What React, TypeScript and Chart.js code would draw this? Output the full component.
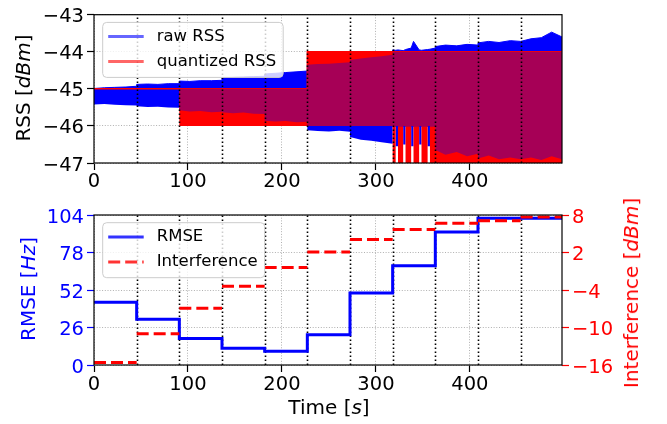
import React, { useEffect, useRef } from 'react';
import { Chart, registerables } from 'chart.js';

Chart.register(...registerables);

const FONT = "'DejaVu Sans', sans-serif";

// Axis ticks
const timeTicks = [0, 100, 200, 300, 400];
const rssTicks = [-47, -46, -45, -44, -43];
const rmseTicks = [0, 26, 52, 78, 104];
const interferenceTicks = [-16, -10, -4, 2, 8];

const timeMax = 498;

// Start of each measurement window (s)
const windowStarts = [0, 45.4, 90.8, 136.2, 181.6, 227, 272.4, 317.8, 363.2, 408.6, 454];

// RSS envelopes, sampled inside every window (time in s, RSS in dBm)
const envTime = [
  0, 11, 22, 34, 45.4,
  45.4, 57, 68, 79, 90.8,
  90.8, 102, 113, 125, 136.2,
  136.2, 148, 159, 170, 181.6,
  181.6, 193, 204, 216, 227,
  227, 238, 250, 261, 272.4,
  272.4, 284, 295, 306, 317.8,
  317.8, 321, 321, 323.5, 323.5, 329, 329, 331.5, 331.5, 337.5, 337.5, 340, 340, 346, 346, 348.5, 348.5, 355, 355, 357.5, 357.5, 363.2,
  363.2, 374, 386, 397, 408.6,
  408.6, 420, 431, 443, 454,
  454, 465, 476, 487, 498,
];

// Upper / lower edge of the raw RSS trace
const rawHigh = [
  -44.99, -44.97, -44.96, -44.95, -44.93,
  -44.88, -44.87, -44.88, -44.86, -44.86,
  -44.79, -44.8, -44.78, -44.78, -44.77,
  -44.7, -44.69, -44.68, -44.67, -44.66,
  -44.6, -44.58, -44.56, -44.54, -44.52,
  -44.35, -44.33, -44.32, -44.3, -44.28,
  -44.22, -44.18, -44.15, -44.12, -44.08,
  -43.95, -43.96, -43.96, -43.95, -43.95, -43.97, -43.97, -43.94, -43.94, -43.9, -43.9, -43.72, -43.72, -43.95, -43.95, -43.96, -43.96, -43.94, -43.94, -43.93, -43.93, -43.9,
  -43.86, -43.82, -43.84, -43.8, -43.82,
  -43.76, -43.72, -43.75, -43.7, -43.72,
  -43.72, -43.65, -43.62, -43.47, -43.6,
];
const rawLow = [
  -45.42, -45.41, -45.43, -45.44, -45.45,
  -45.47, -45.49, -45.48, -45.5, -45.51,
  -45.58, -45.61, -45.6, -45.63, -45.62,
  -45.63, -45.66, -45.64, -45.67, -45.68,
  -45.86, -45.88, -45.87, -45.9, -45.89,
  -46.12, -46.14, -46.15, -46.13, -46.16,
  -46.3, -46.37, -46.4, -46.44, -46.48,
  -46.02, -46.02, -46.55, -46.55, -46.02, -46.02, -46.5, -46.5, -46.02, -46.02, -46.55, -46.55, -46.02, -46.02, -46.5, -46.5, -46.02, -46.02, -46.55, -46.55, -46.02, -46.02,
  -46.65, -46.78, -46.7, -46.82, -46.75,
  -46.88, -46.8, -46.9, -46.85, -46.9,
  -46.9, -46.85, -46.92, -46.82, -46.9,
];

// Range covered by the quantized RSS trace
const quantHigh = [
  -45, -45, -45, -45, -45,
  -45, -45, -45, -45, -45,
  -45, -45, -45, -45, -45,
  -45, -45, -45, -45, -45,
  -45, -45, -45, -45, -45,
  -44, -44, -44, -44, -44,
  -44, -44, -44, -44, -44,
  -44, -44, -44, -44, -44, -44, -44, -44, -44, -44, -44, -44, -44, -44, -44, -44, -44, -44, -44, -44, -44, -44,
  -44, -44, -44, -44, -44,
  -44, -44, -44, -44, -44,
  -44, -44, -44, -44, -44,
];
const quantLow = [
  -45, -45, -45, -45, -45,
  -45, -45, -45, -45, -45,
  -46, -46, -46, -46, -46,
  -46, -46, -46, -46, -46,
  -46, -46, -46, -46, -46,
  -46, -46, -46, -46, -46,
  -46, -46, -46, -46, -46,
  -47, -47, -46, -46, -47, -47, -46, -46, -47, -47, -46, -46, -47, -47, -46, -46, -47, -47, -46, -46, -47, -47,
  -47, -47, -47, -47, -47,
  -47, -47, -47, -47, -47,
  -47, -47, -47, -47, -47,
];

// RMSE per window (Hz); the last level holds to the end of the run
const rmseStarts = [0, 45.4, 90.8, 136.2, 181.6, 227, 272.4, 317.8, 363.2, 408.6];
const rmse = [43.5, 31.7, 18.3, 11.6, 9.5, 21.0, 49.9, 68.9, 92.2, 101.7];

// Interference level per window (dBm)
const interference = [-15.6, -11.0, -6.9, -3.4, -0.4, 2.1, 4.1, 5.7, 6.7, 7.1, 7.7];

const BLUE = '#0000ff';
const RED = '#ff0000';
const MIX = 'rgb(166,0,86)';

const pts = (xs: number[], ys: number[]) => xs.map((x, i) => ({ x, y: ys[i] }));
const fmt = (v: number) => (v < 0 ? '\u2212' + Math.abs(v) : String(v));

// where both traces cover the same RSS values
const mixHigh = envTime.map((_, i) => Math.min(rawHigh[i], quantHigh[i]));
const mixLow = envTime.map((_, i) => Math.min(mixHigh[i], Math.max(rawLow[i], quantLow[i])));

function axis(o: {
  min: number; max: number; ticks: number[]; color: string; position: string;
  grid: boolean; size: (s: any) => void; padding: number; labelOffset?: number;
}) {
  return {
    type: 'linear',
    position: o.position,
    min: o.min,
    max: o.max,
    afterBuildTicks: (s: any) => { s.ticks = o.ticks.map((v) => ({ value: v })); },
    afterFit: o.size,
    grid: {
      drawOnChartArea: o.grid,
      color: '#b0b0b0',
      lineWidth: 1,
      tickLength: 7,
      tickWidth: 1.2,
      tickColor: o.color,
    },
    border: { display: false, dash: [1, 1.7] },
    ticks: {
      color: o.color,
      font: { family: FONT, size: 19.5 },
      padding: o.padding,
      labelOffset: o.labelOffset || 0,
      maxRotation: 0,
      minRotation: 0,
      callback: (v: any) => fmt(Number(v)),
    },
  };
}

const framePlugin = {
  id: 'frame',
  afterDraw(chart: any) {
    const { ctx, chartArea: a } = chart;
    ctx.save();
    ctx.strokeStyle = '#000';
    ctx.lineWidth = 1.2;
    ctx.setLineDash([]);
    ctx.strokeRect(a.left, a.top, a.right - a.left, a.bottom - a.top);
    ctx.restore();
  },
};

function windowLines(id: string, hook: string) {
  return {
    id,
    [hook](chart: any) {
      const { ctx, chartArea: a, scales } = chart;
      ctx.save();
      ctx.beginPath();
      ctx.rect(a.left, a.top, a.right - a.left, a.bottom - a.top);
      ctx.clip();
      ctx.strokeStyle = '#000';
      ctx.lineWidth = 1.6;
      ctx.setLineDash([1.6, 2.4]);
      windowStarts.slice(1).forEach((t) => {
        const x = Math.round(scales.x.getPixelForValue(t)) + 0.5;
        ctx.beginPath();
        ctx.moveTo(x, a.bottom);
        ctx.lineTo(x, a.top);
        ctx.stroke();
      });
      ctx.restore();
    },
  };
}

function boxLegend(id: string, items: { label: string; color: string; dash?: number[] }[]) {
  return {
    id,
    afterDatasetsDraw(chart: any) {
      const { ctx, chartArea: a } = chart;
      ctx.save();
      ctx.font = `16.5px ${FONT}`;
      const tw = Math.max(...items.map((it) => ctx.measureText(it.label).width));
      const x0 = a.left + 8.7;
      const y0 = a.top + 7.7;
      const w = 54 + tw + 7;
      const h = 55;
      ctx.beginPath();
      ctx.roundRect(x0, y0, w, h, 4);
      ctx.fillStyle = 'rgba(255,255,255,0.8)';
      ctx.fill();
      ctx.strokeStyle = '#cccccc';
      ctx.lineWidth = 1;
      ctx.stroke();
      items.forEach((it, i) => {
        const cy = y0 + 14.2 + i * 25;
        ctx.strokeStyle = it.color;
        ctx.lineWidth = 3;
        ctx.setLineDash(it.dash || []);
        ctx.beginPath();
        ctx.moveTo(x0 + 5.5, cy);
        ctx.lineTo(x0 + 41, cy);
        ctx.stroke();
        ctx.setLineDash([]);
        ctx.fillStyle = '#000';
        ctx.textBaseline = 'middle';
        ctx.textAlign = 'left';
        ctx.fillText(it.label, x0 + 54, cy);
      });
      ctx.restore();
    },
  };
}

function band(data: any[], color: string, order: number, fill: any, width: number) {
  return {
    data,
    order,
    fill,
    backgroundColor: color,
    borderColor: color,
    borderWidth: width,
    pointRadius: 0,
    tension: 0,
  };
}

function rssConfig(): any {
  return {
    type: 'line',
    data: {
      datasets: [
        band(pts(envTime, mixHigh), MIX, 1, '+1', 0),
        band(pts(envTime, mixLow), MIX, 1, false, 0),
        band(pts(envTime, quantHigh), RED, 2, '+1', 1.5),
        band(pts(envTime, quantLow), RED, 2, false, 0),
        band(pts(envTime, rawHigh), BLUE, 3, '+1', 1),
        band(pts(envTime, rawLow), BLUE, 3, false, 0),
      ],
    },
    options: {
      animation: false,
      responsive: false,
      events: [],
      layout: { padding: { top: 13, left: 0, right: 105, bottom: 0 } },
      plugins: { legend: { display: false }, tooltip: { enabled: false } },
      scales: {
        x: axis({ min: 0, max: timeMax, ticks: timeTicks, color: '#000', position: 'bottom', grid: true,
          size: (s: any) => { s.height = 32; }, padding: 0 }),
        y: axis({ min: -47, max: -43, ticks: rssTicks, color: '#000', position: 'left', grid: true,
          size: (s: any) => { s.width = 94; }, padding: 3, labelOffset: 2.5 }),
      },
    },
    plugins: [
      windowLines('rssWindows', 'afterDatasetsDraw'),
      boxLegend('rssLegend', [
        { label: 'raw RSS', color: 'rgba(0,0,255,0.6)' },
        { label: 'quantized RSS', color: 'rgba(255,0,0,0.6)' },
      ]),
      framePlugin,
    ],
  };
}

function errorConfig(): any {
  const rmsePts = rmseStarts.map((x, i) => ({ x, y: rmse[i] }));
  rmsePts.push({ x: timeMax, y: rmse[rmse.length - 1] });
  const interfPts: { x: number; y: number | null }[] = [];
  interference.forEach((v, i) => {
    const s = windowStarts[i];
    const e = i + 1 < windowStarts.length ? windowStarts[i + 1] : timeMax;
    interfPts.push({ x: s, y: v }, { x: e, y: v }, { x: e, y: null });
  });
  return {
    type: 'line',
    data: {
      datasets: [
        {
          data: interfPts,
          yAxisID: 'y1',
          order: 0,
          borderColor: RED,
          borderWidth: 3,
          borderDash: [12, 5],
          pointRadius: 0,
          fill: false,
          spanGaps: false,
        },
        {
          data: rmsePts,
          yAxisID: 'y',
          order: 1,
          borderColor: BLUE,
          borderWidth: 3,
          stepped: 'before',
          pointRadius: 0,
          fill: false,
        },
      ],
    },
    options: {
      animation: false,
      responsive: false,
      events: [],
      layout: { padding: { top: 20, left: 0, right: 0, bottom: 0 } },
      plugins: { legend: { display: false }, tooltip: { enabled: false } },
      scales: {
        x: axis({ min: 0, max: timeMax, ticks: timeTicks, color: '#000', position: 'bottom', grid: true,
          size: (s: any) => { s.height = 59; }, padding: 1 }),
        y: axis({ min: 0, max: 104, ticks: rmseTicks, color: BLUE, position: 'left', grid: true,
          size: (s: any) => { s.width = 94; }, padding: 3, labelOffset: 2.5 }),
        y1: axis({ min: -16, max: 8, ticks: interferenceTicks, color: RED, position: 'right', grid: false,
          size: (s: any) => { s.width = 105; }, padding: 3, labelOffset: 2.5 }),
      },
    },
    plugins: [
      windowLines('errWindows', 'beforeDatasetsDraw'),
      boxLegend('errLegend', [
        { label: 'RMSE', color: 'rgba(0,0,255,0.8)' },
        { label: 'Interference', color: 'rgba(255,0,0,0.8)', dash: [12, 5] },
      ]),
      framePlugin,
    ],
  };
}

const labelBase: React.CSSProperties = {
  position: 'absolute',
  whiteSpace: 'nowrap',
  fontFamily: FONT,
  fontSize: 20,
  lineHeight: 1,
};

function AxisLabel({ x, y, rotate, color, children }: any) {
  return (
    <div
      style={{
        ...labelBase,
        left: x,
        top: y,
        color,
        transform: `translate(-50%, -50%)${rotate ? ' rotate(-90deg)' : ''}`,
      }}
    >
      {children}
    </div>
  );
}

export default function App() {
  const topRef = useRef<HTMLCanvasElement>(null);
  const botRef = useRef<HTMLCanvasElement>(null);

  useEffect(() => {
    const top = new Chart(topRef.current as HTMLCanvasElement, rssConfig());
    const bot = new Chart(botRef.current as HTMLCanvasElement, errorConfig());
    return () => {
      top.destroy();
      bot.destroy();
    };
  }, []);

  return (
    <div style={{ position: 'absolute', left: 0, top: 0, width: 667, height: 424, background: '#fff', overflow: 'hidden' }}>
      <canvas ref={topRef} width={667} height={195}
        style={{ position: 'absolute', left: 0, top: 0, width: 667, height: 195, display: 'block' }} />
      <canvas ref={botRef} width={667} height={229}
        style={{ position: 'absolute', left: 0, top: 195, width: 667, height: 229, display: 'block' }} />
      <AxisLabel x={23} y={88} rotate color="#000">RSS [<i>dBm</i>]</AxisLabel>
      <AxisLabel x={27.5} y={289} rotate color={BLUE}>RMSE [<i>Hz</i>]</AxisLabel>
      <AxisLabel x={631} y={293} rotate color={RED}>Interference [<i>dBm</i>]</AxisLabel>
      <AxisLabel x={329} y={407} color="#000">Time [<i>s</i>]</AxisLabel>
    </div>
  );
}
